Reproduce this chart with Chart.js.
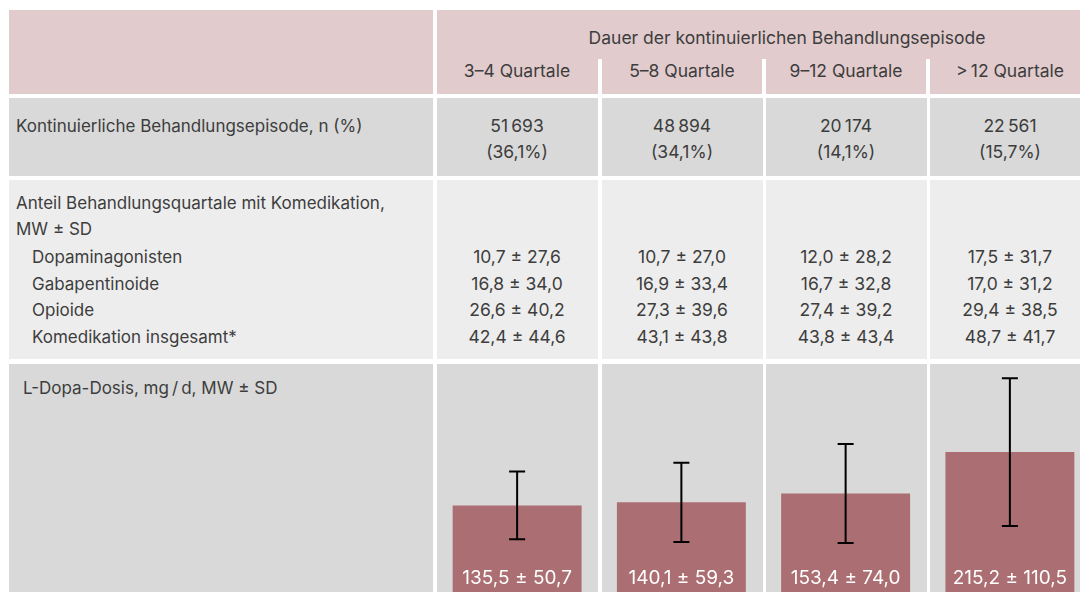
<!DOCTYPE html>
<html lang="de">
<head>
<meta charset="utf-8">
<script src="https://cdn.jsdelivr.net/npm/chart.js@4"></script>
<style>
  html, body { margin: 0; padding: 0; }
  body {
    width: 1080px; height: 592px; overflow: hidden; position: relative;
    background: #fff; font-family: Inter, "Noto Sans", sans-serif;
    font-size: 17px; color: #3d3d3d;
  }
  .cell { position: absolute; }
  .pink { background: #e2cbcd; }
  .dark { background: #d9d9d9; }
  .light { background: #ededed; }
  .sep { position: absolute; background: #fff; }
  .t { position: absolute; white-space: nowrap; line-height: 26.5px; }
  .c { text-align: center; font-size: 17.5px; }
  #chartBox { position: absolute; left: 435px; top: 364px; width: 657px; height: 232px; }
</style>
</head>
<body>
<div id="table"></div>
<div id="chartBox"><canvas id="dopa" width="657" height="232"></canvas></div>
<script>
// column headers
var categories = ['3\u20134 Quartale', '5\u20138 Quartale', '9\u201312 Quartale', '>\u200912 Quartale'];

// continuous treatment episodes, n and %
var episodeN = [51693, 48894, 20174, 22561];
var episodePct = [36.1, 34.1, 14.1, 15.7];

// share of treatment quarters with comedication, mean and SD
var comedLabels = ['Dopaminagonisten', 'Gabapentinoide', 'Opioide', 'Komedikation insgesamt*'];
var comedMean = [
  [10.7, 10.7, 12.0, 17.5],
  [16.8, 16.9, 16.7, 17.0],
  [26.6, 27.3, 27.4, 29.4],
  [42.4, 43.1, 43.8, 48.7]
];
var comedSD = [
  [27.6, 27.0, 28.2, 31.7],
  [34.0, 33.4, 32.8, 31.2],
  [40.2, 39.6, 39.2, 38.5],
  [44.6, 43.8, 43.4, 41.7]
];

// L-Dopa dose, mg/d
var dopaMean = [135.5, 140.1, 153.4, 215.2];
var dopaSD = [50.7, 59.3, 74.0, 110.5];

function dec(v) { return v.toFixed(1).replace('.', ','); }
function thou(v) { return String(v).replace(/\B(?=(\d{3})+(?!\d))/g, '\u2009'); }

var colLeft = [437, 602, 766, 930];
var colW = 160;
var html = '';

function box(cls, x, y, w, h) {
  html += '<div class="cell ' + cls + '" style="left:' + x + 'px;top:' + y + 'px;width:' + w + 'px;height:' + h + 'px"></div>';
}
function text(str, x, y, w, center) {
  html += '<div class="t' + (center ? ' c' : '') + '" style="left:' + x + 'px;top:' + (y - 13) + 'px;' +
    (w ? 'width:' + w + 'px;' : '') + '">' + str + '</div>';
}

// header
box('pink', 9, 10, 424, 84);
box('pink', 437, 10, 653, 84);
for (var i = 1; i < 4; i++) {
  html += '<div class="sep" style="left:' + (colLeft[i] - 4) + 'px;top:59px;width:4px;height:35px"></div>';
}
text('Dauer der kontinuierlichen Behandlungsepisode', 587, 38, 400, true);
categories.forEach(function (c, i) { text(c, colLeft[i], 71, colW, true); });

// row: episodes
box('dark', 9, 98, 424, 78);
colLeft.forEach(function (x) { box('dark', x, 98, 161, 78); });
text('Kontinuierliche Behandlungsepisode, n (%)', 16, 126);
episodeN.forEach(function (n, i) {
  text(thou(n), colLeft[i], 126, colW, true);
  text('(' + dec(episodePct[i]) + '%)', colLeft[i], 152, colW, true);
});

// row: comedication
box('light', 9, 180, 424, 179);
colLeft.forEach(function (x) { box('light', x, 180, 161, 179); });
text('Anteil Behandlungsquartale mit Komedikation,', 16, 203);
text('MW \u00b1 SD', 16, 229);
comedLabels.forEach(function (lab, r) {
  var y = 257 + r * 26.5;
  text(lab, 32, y);
  comedMean[r].forEach(function (m, i) {
    text(dec(m) + ' \u00b1 ' + dec(comedSD[r][i]), colLeft[i], y, colW, true);
  });
});

// row: L-Dopa
box('dark', 9, 364, 424, 240);
colLeft.forEach(function (x) { box('dark', x, 364, 161, 240); });
text('L-Dopa-Dosis, mg\u2009/\u2009d, MW \u00b1 SD', 23, 388);

document.getElementById('table').innerHTML = html;

// error bars and value labels
var errorBars = {
  id: 'errorBars',
  afterDatasetsDraw: function (chart) {
    var ctx = chart.ctx;
    var y = chart.scales.y;
    var meta = chart.getDatasetMeta(0);
    ctx.save();
    meta.data.forEach(function (bar, i) {
      var top = y.getPixelForValue(dopaMean[i] + dopaSD[i]);
      var bot = y.getPixelForValue(dopaMean[i] - dopaSD[i]);
      ctx.strokeStyle = '#000';
      ctx.lineWidth = 2;
      ctx.beginPath();
      ctx.moveTo(bar.x, top); ctx.lineTo(bar.x, bot);
      ctx.moveTo(bar.x - 8, top); ctx.lineTo(bar.x + 8, top);
      ctx.moveTo(bar.x - 8, bot); ctx.lineTo(bar.x + 8, bot);
      ctx.stroke();
      ctx.fillStyle = '#fff';
      ctx.font = '19px Inter, "Noto Sans", sans-serif';
      ctx.textAlign = 'center';
      ctx.textBaseline = 'middle';
      ctx.fillText(dec(dopaMean[i]) + ' \u00b1 ' + dec(dopaSD[i]), bar.x, chart.chartArea.bottom - 18);
    });
    ctx.restore();
  }
};

new Chart(document.getElementById('dopa'), {
  type: 'bar',
  data: {
    labels: categories,
    datasets: [{
      data: dopaMean,
      backgroundColor: '#ab6e72',
      borderWidth: 0,
      barPercentage: 0.785,
      categoryPercentage: 1
    }]
  },
  options: {
    responsive: false,
    animation: false,
    layout: { padding: 0 },
    plugins: { legend: { display: false }, tooltip: { enabled: false } },
    scales: {
      x: { display: false },
      y: { display: false, min: 0, max: 347 }
    }
  },
  plugins: [errorBars]
});
</script>
</body>
</html>
